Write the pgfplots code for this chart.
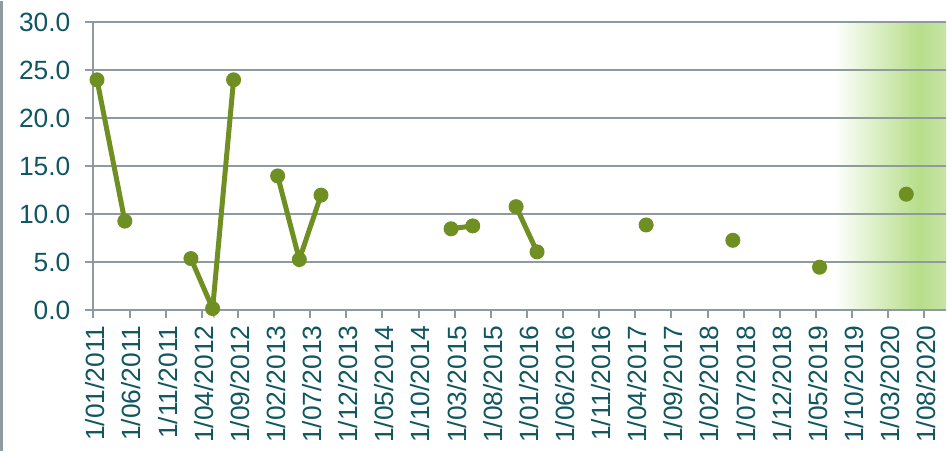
\documentclass[border=0pt]{standalone}
\usepackage{fontspec}
\setmainfont{Liberation Sans}
\usepackage{pgfplots}
\pgfplotsset{compat=1.18}
\definecolor{txt}{RGB}{16,86,96}
\definecolor{gridc}{RGB}{142,154,160}
\definecolor{ser}{RGB}{111,143,34}
\definecolor{shadeg}{RGB}{183,222,138}
\definecolor{shadeg2}{RGB}{198,228,164}
\begin{document}
\begin{tikzpicture}
\path (-46.75pt,-70.35pt) rectangle (426.75pt,154.65pt);
\draw[gridc, line width=1.5pt] (-46pt,-70.35pt) -- (-46pt,154.65pt);
\begin{axis}[
  at={(0pt,0pt)}, anchor=south west,
  scale only axis, width=426.75pt, height=144.3pt,
  set layers, clip=false,
  xmin=0, xmax=118, ymin=0, ymax=30,
  axis x line=bottom, axis y line=left,
  axis line style={gridc, line width=1pt, -},
  ytick={0,5,...,30}, ymajorgrids,
  grid style={gridc, line width=1pt},
  xtick={0,5,...,115},
  xticklabels={1/01/2011,1/06/2011,1/11/2011,1/04/2012,1/09/2012,1/02/2013,1/07/2013,1/12/2013,1/05/2014,1/10/2014,1/03/2015,1/08/2015,1/01/2016,1/06/2016,1/11/2016,1/04/2017,1/09/2017,1/02/2018,1/07/2018,1/12/2018,1/05/2019,1/10/2019,1/03/2020,1/08/2020},
  tick align=outside, major tick length=4pt,
  tick style={gridc, line width=1pt},
  ticklabel style={font=\fontsize{13.2}{15}\selectfont, text=txt},
  x tick label style={rotate=90, anchor=east, yshift=-1pt},
  yticklabel style={xshift=-4pt, /pgf/number format/.cd, fixed, fixed zerofill, precision=1},
  /pgf/number format/assume math mode=true,
]
\addplot[draw=none, left color=white, right color=shadeg, on layer=axis background]
  coordinates {(102.5,0) (102.5,30) (114.2,30) (114.2,0)} -- cycle;
\addplot[draw=none, left color=shadeg, right color=shadeg2, on layer=axis background]
  coordinates {(114.2,0) (114.2,30) (118,30) (118,0)} -- cycle;
\addplot[ser, line width=2.5pt, mark=*, mark size=3.5pt,
  mark options={solid, fill=ser, draw=ser, line width=0.5pt},
  unbounded coords=jump] coordinates {
  (0.5,24.0) (4.35,9.3) (8,nan)
  (13.5,5.4) (16.5,0.2) (19.4,24.0) (22,nan)
  (25.5,14.0) (28.5,5.3) (31.5,12.0) (40,nan)
  (49.5,8.5) (52.5,8.8) (55,nan)
  (58.5,10.8) (61.4,6.1) (70,nan)
  (76.5,8.9) (80,nan)
  (88.5,7.3) (95,nan)
  (100.5,4.5) (106,nan)
  (112.5,12.1)
};
\end{axis}
\end{tikzpicture}
\end{document}
